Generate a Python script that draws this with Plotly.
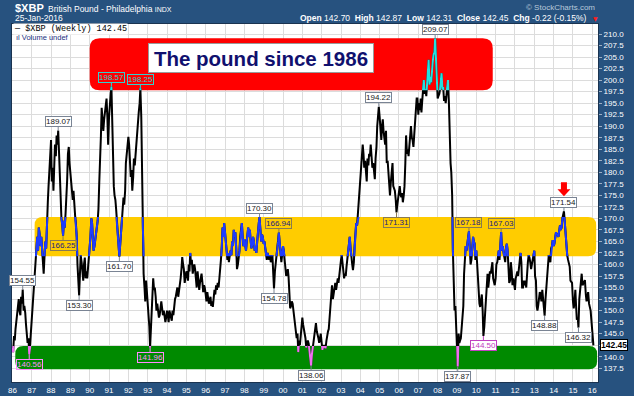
import plotly.graph_objects as go
import pandas as pd

# ---------------- data: semi-monthly readings (1st, 15th of each month), $XBP = GBP in US cents ----------------
y1986 = [142.0, 141.0, 144.5, 143.5, 146.0, 147.5, 149.5, 151.0, 152.5, 150.0, 149.0, 153.0,
         151.5, 154.55, 150.0, 151.0, 149.5, 147.0, 144.5, 143.0, 144.0, 140.56, 142.5, 145.0]
y1987 = [148.0, 150.0, 153.0, 156.0, 158.5, 161.0, 164.5, 166.0, 163.0, 168.0, 166.5, 164.0,
         166.0, 163.0, 160.5, 158.0, 162.0, 165.0, 163.5, 170.0, 173.5, 177.0, 180.5, 184.0]
y1988 = [187.0, 178.0, 181.0, 176.0, 180.0, 186.0, 183.5, 188.0, 186.0, 189.07, 184.0, 178.0,
         173.0, 170.0, 168.5, 166.25, 169.5, 168.0, 171.0, 174.0, 178.5, 184.0, 185.5, 182.0]
y1989 = [179.5, 177.0, 175.0, 174.0, 176.0, 172.0, 170.5, 169.0, 166.0, 160.0, 157.0, 153.30,
         158.0, 162.0, 160.5, 158.0, 156.5, 160.0, 161.5, 157.0, 158.5, 157.0, 159.0, 161.0]
y1990 = [163.5, 166.0, 170.0, 169.0, 166.0, 163.0, 164.0, 165.0, 166.5, 168.0, 169.5, 172.0,
         178.0, 186.0, 188.0, 194.0, 191.0, 189.0, 191.5, 193.0, 195.0, 196.0, 192.0, 186.0]
y1991 = [192.0, 196.0, 197.0, 198.57, 190.0, 180.0, 177.0, 175.0, 174.0, 172.0, 168.5, 166.0,
         164.0, 161.70, 164.5, 167.0, 170.0, 172.0, 174.5, 173.0, 176.0, 182.0, 184.0, 187.0]
y1992 = [187.7, 186.0, 182.0, 179.0, 180.5, 176.0, 179.0, 183.0, 181.5, 184.0, 187.0, 190.0,
         191.5, 193.0, 195.0, 198.25, 192.0, 180.0, 168.0, 158.0, 155.0, 152.0, 156.5, 154.0]
y1993 = [152.5, 151.0, 146.5, 141.96, 145.0, 149.0, 153.0, 157.0, 154.5, 155.0, 153.0, 150.0,
         151.5, 150.0, 148.5, 149.0, 151.0, 152.0, 150.5, 149.0, 150.0, 149.0, 147.5, 148.5]
y1994 = [150.0, 149.0, 147.5, 150.0, 149.5, 148.6, 147.8, 150.0, 149.0, 151.0, 152.5, 153.0,
         154.5, 155.0, 153.0, 154.0, 155.5, 157.0, 159.0, 161.6, 160.0, 159.0, 156.0, 157.0]
y1995 = [158.5, 158.0, 156.5, 160.0, 158.5, 162.5, 160.0, 161.0, 158.0, 159.0, 160.0, 159.0,
         157.5, 155.0, 158.5, 156.5, 154.5, 156.0, 157.5, 158.0, 156.0, 154.0, 155.5, 155.0]
y1996 = [153.5, 152.0, 154.0, 153.0, 151.5, 152.0, 153.0, 151.0, 152.0, 150.8, 152.5, 154.5,
         153.5, 155.5, 154.5, 156.0, 155.0, 156.5, 158.0, 161.0, 164.0, 168.0, 166.0, 169.0]
y1997 = [167.0, 165.0, 163.5, 161.0, 162.5, 160.5, 162.0, 163.0, 162.0, 165.0, 164.0, 167.5,
         166.0, 167.0, 163.5, 159.0, 160.0, 161.0, 163.0, 166.0, 168.5, 169.0, 166.0, 164.0]
y1998 = [165.5, 164.0, 163.0, 165.0, 166.5, 168.0, 166.0, 167.5, 165.0, 163.5, 164.5, 166.0,
         165.0, 163.0, 164.0, 162.5, 165.0, 168.0, 169.0, 170.30, 167.5, 165.0, 166.5, 166.0]
y1999 = [164.5, 165.0, 163.5, 162.0, 161.0, 162.5, 161.5, 161.0, 162.0, 160.5, 161.0, 162.0,
         158.0, 154.78, 158.5, 160.0, 161.5, 163.0, 165.0, 166.94, 164.5, 162.0, 160.5, 162.0]
y2000 = [164.0, 163.0, 160.5, 159.5, 157.5, 158.0, 159.0, 157.3, 153.0, 150.5, 151.0, 152.0,
         151.5, 150.0, 148.5, 147.0, 145.5, 144.0, 145.0, 141.0, 143.5, 142.5, 144.5, 146.0]
y2001 = [148.5, 147.0, 146.0, 145.0, 144.0, 142.0, 143.0, 143.5, 142.8, 141.5, 140.5, 138.06,
         140.5, 142.0, 143.5, 145.0, 146.0, 147.3, 145.5, 145.0, 144.0, 143.0, 144.0, 145.0]
y2002 = [143.0, 141.5, 142.5, 142.0, 142.5, 141.8, 143.5, 145.0, 145.5, 146.0, 148.5, 152.0,
         154.0, 155.5, 152.5, 153.5, 155.0, 156.0, 154.5, 155.5, 157.0, 156.0, 158.0, 160.0]
y2003 = [161.0, 162.0, 160.5, 158.5, 157.0, 158.0, 157.5, 159.5, 161.5, 163.0, 164.5, 166.0,
         163.5, 161.0, 160.0, 158.8, 160.5, 164.0, 167.0, 169.0, 168.5, 171.0, 173.5, 177.0]
y2004 = [179.0, 182.0, 184.5, 186.0, 184.0, 181.0, 182.5, 179.0, 178.0, 183.0, 181.5, 184.0,
         183.5, 186.0, 184.0, 181.0, 182.0, 180.0, 178.5, 183.0, 185.5, 190.0, 193.0, 194.22]
y2005 = [192.0, 188.0, 187.0, 190.0, 191.5, 189.0, 187.5, 186.0, 189.0, 182.0, 182.5, 179.0,
         176.5, 175.0, 178.0, 180.0, 182.0, 177.0, 176.0, 176.0, 174.0, 171.31, 173.0, 174.0]
y2006 = [176.0, 177.0, 175.0, 174.6, 175.5, 173.5, 175.0, 177.0, 182.0, 188.0, 184.0, 185.0,
         183.5, 186.0, 188.0, 190.0, 187.5, 187.0, 185.5, 188.5, 190.0, 193.0, 196.0, 196.0]
y2007 = [192.5, 195.0, 193.5, 196.0, 193.0, 195.4, 198.0, 200.0, 197.0, 198.0, 196.5, 199.5,
         202.0, 204.4, 199.0, 200.7, 199.5, 203.0, 204.0, 205.5, 206.0, 209.07, 203.0, 199.4]
y2008 = [196.0, 196.5, 197.0, 198.0, 199.5, 201.5, 198.0, 198.5, 195.5, 196.5, 195.0, 197.0,
         199.0, 200.0, 195.0, 188.0, 182.0, 180.0, 175.0, 163.0, 158.0, 150.0, 151.0, 146.0]
y2009 = [144.0, 137.87, 145.0, 143.0, 143.5, 144.0, 146.5, 148.0, 151.0, 158.0, 162.0, 164.0,
         163.0, 165.0, 166.0, 167.18, 163.5, 160.0, 161.0, 164.0, 166.0, 165.0, 164.5, 161.0]
y2010 = [163.0, 160.5, 157.0, 153.0, 151.5, 150.8, 152.0, 153.5, 150.0, 144.50, 146.5, 149.0,
         151.5, 156.0, 158.0, 155.0, 156.5, 158.5, 158.0, 159.0, 160.5, 157.0, 155.5, 155.5]
y2011 = [157.0, 160.0, 160.5, 162.0, 163.0, 161.0, 163.5, 167.03, 163.0, 164.0, 162.5, 161.0,
         160.5, 163.5, 164.5, 163.0, 160.0, 156.0, 156.5, 160.5, 158.5, 155.5, 157.0, 155.0]
y2012 = [154.5, 157.0, 158.0, 158.5, 157.5, 159.5, 160.0, 162.5, 160.5, 155.0, 155.0, 156.5,
         155.5, 156.5, 155.0, 158.5, 160.5, 162.0, 161.5, 160.5, 159.0, 160.0, 161.0, 162.5]
y2013 = [163.0, 157.5, 156.5, 151.0, 150.0, 151.0, 153.5, 154.0, 153.5, 152.0, 154.5, 153.0,
         151.0, 148.88, 152.5, 155.0, 158.0, 160.5, 162.0, 161.0, 160.5, 163.5, 164.0, 165.3]
y2014 = [164.0, 164.5, 166.0, 167.0, 166.5, 166.5, 166.0, 168.0, 168.5, 167.5, 168.0, 170.0,
         171.0, 171.54, 169.0, 166.0, 163.0, 162.0, 161.0, 160.5, 159.5, 156.5, 156.0, 156.0]
y2015 = [152.0, 150.5, 152.0, 154.5, 151.0, 148.0, 148.5, 146.32, 152.5, 154.5, 156.0, 158.0,
         155.5, 155.8, 156.5, 156.6, 153.5, 152.0, 153.0, 154.0, 151.5, 151.0, 150.0, 148.0]
y2016 = [145.5, 142.45]

xbp = (y1986 + y1987 + y1988 + y1989 + y1990 + y1991 + y1992 + y1993 + y1994 + y1995
       + y1996 + y1997 + y1998 + y1999 + y2000 + y2001 + y2002 + y2003 + y2004 + y2005
       + y2006 + y2007 + y2008 + y2009 + y2010 + y2011 + y2012 + y2013 + y2014 + y2015 + y2016)

dates = list(pd.date_range("1986-01-01", periods=720, freq="SMS")) + [pd.Timestamp("2016-01-04"),
                                                                       pd.Timestamp("2016-01-22")]

# labelled extremes: (date, value, position, style)
labels = [
    ("1986-07-15", 154.55, "hi", "w"), ("1986-11-15", 140.56, "lo", "p"),
    ("1988-05-15", 189.07, "hi", "w"), ("1988-08-15", 166.25, "lo", "yl"),
    ("1989-06-15", 153.30, "lo", "w"), ("1991-02-15", 198.57, "hi", "t"),
    ("1991-07-15", 161.70, "lo", "w"), ("1992-08-15", 198.25, "hi", "t"),
    ("1993-02-15", 141.96, "lo", "p"), ("1998-10-15", 170.30, "hi", "w"),
    ("1999-07-15", 154.78, "lo", "w"), ("1999-10-15", 166.94, "hi", "yl"),
    ("2001-06-15", 138.06, "lo", "w"), ("2004-12-15", 194.22, "hi", "w"),
    ("2005-11-15", 171.31, "lo", "yl"), ("2007-11-15", 209.07, "hi", "w"),
    ("2009-01-15", 137.87, "lo", "w"), ("2009-08-15", 167.18, "hi", "yl"),
    ("2010-05-15", 144.50, "lo", "p2"), ("2011-04-15", 167.03, "hi", "yl"),
    ("2013-07-15", 148.88, "lo", "w"), ("2014-07-15", 171.54, "hi", "w"),
    ("2015-04-15", 146.32, "lo", "w"),
]

year_ticks = list(range(1986, 2017))
year_text = [f"{y % 100:02d}" for y in year_ticks]
price_ticks = [137.5 + 2.5 * i for i in range(30)]

# zones: (x0, x1, y0, y1)
red_zone = (1990.0, 2010.85, 197.8, 209.1)
yellow_zone = (1987.15, 2016.2, 161.8, 170.3)
green_zone = (1986.15, 2016.25, 137.3, 142.3)

last_close = 142.45

# ---------------- figure ----------------
W, H = 634, 396
ML, MR, MT, MB = 12, 36, 24, 14
PW, PH = W - ML - MR, H - MT - MB
XR = [1985.98, 1986 + PW / 19.33 - 0.02]
YR = [134.51, 212.17]

def dec(ts):
    ts = pd.Timestamp(ts)
    return ts.year + (ts.dayofyear - 1) / 365.25

xs = [dec(d) for d in dates]

def px(x):
    return (x - ML) / PW

def py(y):
    return (H - MB - y) / PH

def dom(lo, hi):
    return [max(0, (lo - YR[0]) / (YR[1] - YR[0])), min(1, (hi - YR[0]) / (YR[1] - YR[0]))]

fig = go.Figure()
fig.add_trace(go.Scatter(x=xs, y=xbp, mode="lines", line=dict(color="#000000", width=2),
                         hoverinfo="skip", xaxis="x", yaxis="y"))

overlays = [("#1f3cff", yellow_zone[2], yellow_zone[3], 2),
            ("#22e0e0", red_zone[2], YR[1], 3),
            ("#f070f0", YR[0], green_zone[3], 4)]
for col, lo, hi, k in overlays:
    fig.add_trace(go.Scatter(x=xs, y=xbp, mode="lines", line=dict(color=col, width=2),
                             hoverinfo="skip", xaxis=f"x{k}", yaxis=f"y{k}"))
    fig.layout[f"xaxis{k}"] = dict(range=XR, visible=False, domain=[0, 1], anchor=f"y{k}",
                                   fixedrange=True, automargin=False)
    fig.layout[f"yaxis{k}"] = dict(range=[lo, hi], visible=False, domain=dom(lo, hi), anchor=f"x{k}",
                                   fixedrange=True, automargin=False)


def rrect(z, rx, ry):
    x0, x1, y0, y1 = z
    return (f"M {x0+rx},{y0} L {x1-rx},{y0} Q {x1},{y0} {x1},{y0+ry} L {x1},{y1-ry} "
            f"Q {x1},{y1} {x1-rx},{y1} L {x0+rx},{y1} Q {x0},{y1} {x0},{y1-ry} "
            f"L {x0},{y0+ry} Q {x0},{y0} {x0+rx},{y0} Z")

shapes = [dict(type="rect", xref="paper", yref="paper", x0=0, x1=1, y0=0, y1=1,
               fillcolor="#ffffff", line=dict(width=0), layer="below")]
for z, col, r in [(red_zone, "#ff0000", 10), (yellow_zone, "#ffcc00", 8), (green_zone, "#008a00", 8)]:
    shapes.append(dict(type="path", path=rrect(z, r / 19.33, r / 4.61), xref="x", yref="y",
                       fillcolor=col, line=dict(width=0), layer="between"))

# red arrow above the 2014 peak
shapes.append(dict(type="path", xref="x", yref="y", xsizemode="pixel", ysizemode="pixel",
                   xanchor=dec("2014-07-15"), yanchor=171.54,
                   path="M 0,15 L 6.5,22 L 3,22 L 3,29 L -3,29 L -3,22 L -6.5,22 Z",
                   fillcolor="#ff0000", line=dict(width=0), layer="above"))

styles = {
    "w": ("#202020", "#7a8494", "#ffffff"),
    "t": ("#30d0d0", "#30d0d0", "rgba(0,0,0,0)"),
    "p": ("#ff8cff", "#ff8cff", "rgba(0,0,0,0)"),
    "p2": ("#c040c0", "#c040c0", "#ffffff"),
    "yl": ("#1a1a80", "#8a7a50", "rgba(0,0,0,0)"),
}
ann = []
for d, v, pos, st in labels:
    tc, bc, bg = styles[st]
    ann.append(dict(x=dec(d), y=v, xref="x", yref="y", text=f"{v:.2f}", showarrow=True,
                    ax=0, ay=-9 if pos == "hi" else 10, arrowhead=0, arrowwidth=1, arrowcolor=bc,
                    standoff=0, font=dict(family="Liberation Sans", size=8, color=tc),
                    bgcolor=bg, bordercolor=bc, borderwidth=1, borderpad=0))

# title box
ann.append(dict(x=px(261), y=py(58), xref="paper", yref="paper", xanchor="center", yanchor="middle",
                text="<b>The pound since 1986</b>",
                showarrow=False, width=222, height=26, bgcolor="#ffffff", bordercolor="#9a9a9a",
                borderwidth=1, borderpad=1,
                font=dict(family="Liberation Sans", size=20.5, color="#10106e")))

# header
ann.append(dict(x=px(13), y=py(8), xref="paper", yref="paper", xanchor="left", yanchor="middle",
                showarrow=False, text="<b>$XBP</b>", font=dict(family="Liberation Sans", size=11, color="white")))
ann.append(dict(x=px(46), y=py(8.5), xref="paper", yref="paper", xanchor="left", yanchor="middle",
                showarrow=False, text="British Pound - Philadelphia <span style='font-size:7px'>INDX</span>",
                font=dict(family="Liberation Sans", size=8.5, color="white")))
ann.append(dict(x=px(13), y=py(18), xref="paper", yref="paper", xanchor="left", yanchor="middle",
                showarrow=False, text="25-Jan-2016", font=dict(family="Liberation Sans", size=8.5, color="white")))
ann.append(dict(x=px(589), y=py(18), xref="paper", yref="paper", xanchor="right", yanchor="middle",
                showarrow=False,
                text="<b>Open</b> 142.70  <b>High</b> 142.87  <b>Low</b> 142.31  <b>Close</b> 142.45  <b>Chg</b> -0.22 (-0.15%)",
                font=dict(family="Liberation Sans", size=8.5, color="white")))
ann.append(dict(x=px(595), y=py(18), xref="paper", yref="paper", xanchor="center", yanchor="middle",
                showarrow=False, text="▼", font=dict(family="DejaVu Sans", size=6, color="#ff2020")))
ann.append(dict(x=px(597), y=py(7), xref="paper", yref="paper", xanchor="right", yanchor="middle",
                showarrow=False, text="© StockCharts.com", font=dict(family="Liberation Sans", size=8, color="#b9c9da")))

# in-plot legend
ann.append(dict(x=px(13), y=py(29), xref="paper", yref="paper", xanchor="left", yanchor="middle",
                showarrow=False, text="— $XBP (Weekly) 142.45", bgcolor="#ffffff", borderpad=0,
                font=dict(family="Liberation Mono", size=8.5, color="#000000")))
ann.append(dict(x=px(14), y=py(37), xref="paper", yref="paper", xanchor="left", yanchor="middle",
                showarrow=False, text="ıl Volume undef",
                font=dict(family="Liberation Sans", size=7.5, color="#1a2f80")))

# last value tag
ann.append(dict(x=1, y=last_close, xref="paper", yref="y", xanchor="left", yanchor="middle", xshift=2,
                showarrow=False, text=f"<b>{last_close:.2f}</b>", bgcolor="#ffffff", bordercolor="#000000",
                borderwidth=1, borderpad=0, font=dict(family="Liberation Sans", size=8.5, color="#000000")))

price_text = ["" if abs(v - 142.5) < 1e-9 else f"{v:.1f}" for v in price_ticks]

fig.update_layout(
    width=W, height=H, margin=dict(l=ML, r=MR, t=MT, b=MB, autoexpand=False),
    paper_bgcolor="#27527f", plot_bgcolor="rgba(0,0,0,0)", showlegend=False,
    xaxis=dict(range=XR, tickvals=year_ticks, ticktext=year_text, showgrid=True, gridcolor="#dcdcdc",
               gridwidth=1, zeroline=False, ticks="", automargin=False,
               tickfont=dict(family="Liberation Sans", size=8, color="white"),
               showline=True, linecolor="#1a3350", mirror=True, fixedrange=True, domain=[0, 1]),
    yaxis=dict(range=YR, side="right", tickvals=price_ticks, ticktext=price_text,
               showgrid=True, gridcolor="#dcdcdc", gridwidth=1, zeroline=False, ticks="outside",
               ticklen=3, tickcolor="#9fb0c4", automargin=False,
               tickfont=dict(family="Liberation Sans", size=8, color="white"),
               showline=True, linecolor="#1a3350", mirror=True, fixedrange=True, domain=[0, 1]),
    shapes=shapes, annotations=ann,
)

fig.write_html("out.html")
